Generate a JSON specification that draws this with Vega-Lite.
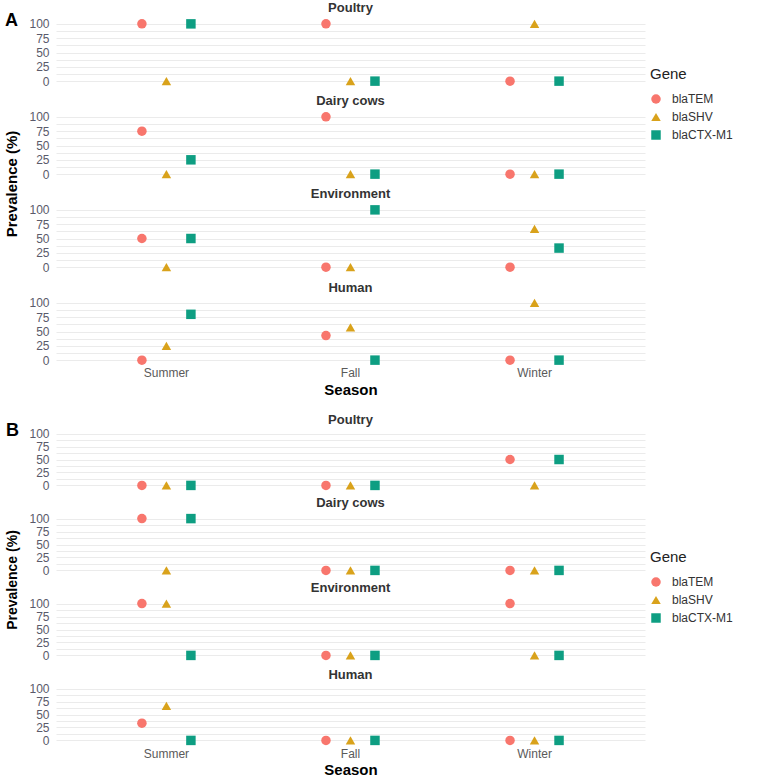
{
  "$schema": "https://vega.github.io/schema/vega-lite/v6.json",
  "background": "white",
  "padding": {"left": 4, "top": 2, "right": 5, "bottom": 2},
  "datasets": {
    "prev": [
      {"Panel":"A","Source":"Poultry","Season":"Summer","Gene":"blaTEM","Prevalence":100},
      {"Panel":"A","Source":"Poultry","Season":"Summer","Gene":"blaSHV","Prevalence":0},
      {"Panel":"A","Source":"Poultry","Season":"Summer","Gene":"blaCTX-M1","Prevalence":100},
      {"Panel":"A","Source":"Poultry","Season":"Fall","Gene":"blaTEM","Prevalence":100},
      {"Panel":"A","Source":"Poultry","Season":"Fall","Gene":"blaSHV","Prevalence":0},
      {"Panel":"A","Source":"Poultry","Season":"Fall","Gene":"blaCTX-M1","Prevalence":0},
      {"Panel":"A","Source":"Poultry","Season":"Winter","Gene":"blaTEM","Prevalence":0},
      {"Panel":"A","Source":"Poultry","Season":"Winter","Gene":"blaSHV","Prevalence":100},
      {"Panel":"A","Source":"Poultry","Season":"Winter","Gene":"blaCTX-M1","Prevalence":0},
      {"Panel":"A","Source":"Dairy cows","Season":"Summer","Gene":"blaTEM","Prevalence":75},
      {"Panel":"A","Source":"Dairy cows","Season":"Summer","Gene":"blaSHV","Prevalence":0},
      {"Panel":"A","Source":"Dairy cows","Season":"Summer","Gene":"blaCTX-M1","Prevalence":25},
      {"Panel":"A","Source":"Dairy cows","Season":"Fall","Gene":"blaTEM","Prevalence":100},
      {"Panel":"A","Source":"Dairy cows","Season":"Fall","Gene":"blaSHV","Prevalence":0},
      {"Panel":"A","Source":"Dairy cows","Season":"Fall","Gene":"blaCTX-M1","Prevalence":0},
      {"Panel":"A","Source":"Dairy cows","Season":"Winter","Gene":"blaTEM","Prevalence":0},
      {"Panel":"A","Source":"Dairy cows","Season":"Winter","Gene":"blaSHV","Prevalence":0},
      {"Panel":"A","Source":"Dairy cows","Season":"Winter","Gene":"blaCTX-M1","Prevalence":0},
      {"Panel":"A","Source":"Environment","Season":"Summer","Gene":"blaTEM","Prevalence":50},
      {"Panel":"A","Source":"Environment","Season":"Summer","Gene":"blaSHV","Prevalence":0},
      {"Panel":"A","Source":"Environment","Season":"Summer","Gene":"blaCTX-M1","Prevalence":50},
      {"Panel":"A","Source":"Environment","Season":"Fall","Gene":"blaTEM","Prevalence":0},
      {"Panel":"A","Source":"Environment","Season":"Fall","Gene":"blaSHV","Prevalence":0},
      {"Panel":"A","Source":"Environment","Season":"Fall","Gene":"blaCTX-M1","Prevalence":100},
      {"Panel":"A","Source":"Environment","Season":"Winter","Gene":"blaTEM","Prevalence":0},
      {"Panel":"A","Source":"Environment","Season":"Winter","Gene":"blaSHV","Prevalence":66.7},
      {"Panel":"A","Source":"Environment","Season":"Winter","Gene":"blaCTX-M1","Prevalence":33.3},
      {"Panel":"A","Source":"Human","Season":"Summer","Gene":"blaTEM","Prevalence":0},
      {"Panel":"A","Source":"Human","Season":"Summer","Gene":"blaSHV","Prevalence":25},
      {"Panel":"A","Source":"Human","Season":"Summer","Gene":"blaCTX-M1","Prevalence":80},
      {"Panel":"A","Source":"Human","Season":"Fall","Gene":"blaTEM","Prevalence":42.9},
      {"Panel":"A","Source":"Human","Season":"Fall","Gene":"blaSHV","Prevalence":57.1},
      {"Panel":"A","Source":"Human","Season":"Fall","Gene":"blaCTX-M1","Prevalence":0},
      {"Panel":"A","Source":"Human","Season":"Winter","Gene":"blaTEM","Prevalence":0},
      {"Panel":"A","Source":"Human","Season":"Winter","Gene":"blaSHV","Prevalence":100},
      {"Panel":"A","Source":"Human","Season":"Winter","Gene":"blaCTX-M1","Prevalence":0},
      {"Panel":"B","Source":"Poultry","Season":"Summer","Gene":"blaTEM","Prevalence":0},
      {"Panel":"B","Source":"Poultry","Season":"Summer","Gene":"blaSHV","Prevalence":0},
      {"Panel":"B","Source":"Poultry","Season":"Summer","Gene":"blaCTX-M1","Prevalence":0},
      {"Panel":"B","Source":"Poultry","Season":"Fall","Gene":"blaTEM","Prevalence":0},
      {"Panel":"B","Source":"Poultry","Season":"Fall","Gene":"blaSHV","Prevalence":0},
      {"Panel":"B","Source":"Poultry","Season":"Fall","Gene":"blaCTX-M1","Prevalence":0},
      {"Panel":"B","Source":"Poultry","Season":"Winter","Gene":"blaTEM","Prevalence":50},
      {"Panel":"B","Source":"Poultry","Season":"Winter","Gene":"blaSHV","Prevalence":0},
      {"Panel":"B","Source":"Poultry","Season":"Winter","Gene":"blaCTX-M1","Prevalence":50},
      {"Panel":"B","Source":"Dairy cows","Season":"Summer","Gene":"blaTEM","Prevalence":100},
      {"Panel":"B","Source":"Dairy cows","Season":"Summer","Gene":"blaSHV","Prevalence":0},
      {"Panel":"B","Source":"Dairy cows","Season":"Summer","Gene":"blaCTX-M1","Prevalence":100},
      {"Panel":"B","Source":"Dairy cows","Season":"Fall","Gene":"blaTEM","Prevalence":0},
      {"Panel":"B","Source":"Dairy cows","Season":"Fall","Gene":"blaSHV","Prevalence":0},
      {"Panel":"B","Source":"Dairy cows","Season":"Fall","Gene":"blaCTX-M1","Prevalence":0},
      {"Panel":"B","Source":"Dairy cows","Season":"Winter","Gene":"blaTEM","Prevalence":0},
      {"Panel":"B","Source":"Dairy cows","Season":"Winter","Gene":"blaSHV","Prevalence":0},
      {"Panel":"B","Source":"Dairy cows","Season":"Winter","Gene":"blaCTX-M1","Prevalence":0},
      {"Panel":"B","Source":"Environment","Season":"Summer","Gene":"blaTEM","Prevalence":100},
      {"Panel":"B","Source":"Environment","Season":"Summer","Gene":"blaSHV","Prevalence":100},
      {"Panel":"B","Source":"Environment","Season":"Summer","Gene":"blaCTX-M1","Prevalence":0},
      {"Panel":"B","Source":"Environment","Season":"Fall","Gene":"blaTEM","Prevalence":0},
      {"Panel":"B","Source":"Environment","Season":"Fall","Gene":"blaSHV","Prevalence":0},
      {"Panel":"B","Source":"Environment","Season":"Fall","Gene":"blaCTX-M1","Prevalence":0},
      {"Panel":"B","Source":"Environment","Season":"Winter","Gene":"blaTEM","Prevalence":100},
      {"Panel":"B","Source":"Environment","Season":"Winter","Gene":"blaSHV","Prevalence":0},
      {"Panel":"B","Source":"Environment","Season":"Winter","Gene":"blaCTX-M1","Prevalence":0},
      {"Panel":"B","Source":"Human","Season":"Summer","Gene":"blaTEM","Prevalence":33.3},
      {"Panel":"B","Source":"Human","Season":"Summer","Gene":"blaSHV","Prevalence":66.7},
      {"Panel":"B","Source":"Human","Season":"Summer","Gene":"blaCTX-M1","Prevalence":0},
      {"Panel":"B","Source":"Human","Season":"Fall","Gene":"blaTEM","Prevalence":0},
      {"Panel":"B","Source":"Human","Season":"Fall","Gene":"blaSHV","Prevalence":0},
      {"Panel":"B","Source":"Human","Season":"Fall","Gene":"blaCTX-M1","Prevalence":0},
      {"Panel":"B","Source":"Human","Season":"Winter","Gene":"blaTEM","Prevalence":0},
      {"Panel":"B","Source":"Human","Season":"Winter","Gene":"blaSHV","Prevalence":0},
      {"Panel":"B","Source":"Human","Season":"Winter","Gene":"blaCTX-M1","Prevalence":0}
    ]
  },
  "data": {"name": "prev"},
  "spacing": 17,
  "vconcat": [
    {
      "title": {"text": "A", "anchor": "start", "frame": "bounds", "offset": -28, "fontSize": 18, "fontWeight": "bold", "color": "black"},
      "transform": [{"filter": "datum.Panel == 'A'"}],
      "facet": {"row": {"field": "Source", "type": "nominal", "sort": ["Poultry", "Dairy cows", "Environment", "Human"],
        "header": {"title": "Prevalence (%)", "titleOrient": "left", "titleFontSize": 15, "titleFontWeight": "bold", "titleColor": "black", "titlePadding": -2,
          "labelOrient": "top", "labelAngle": 0, "labelAnchor": "middle", "labelFontSize": 13, "labelFontWeight": "bold", "labelColor": "#333333", "labelPadding": -9}}},
      "spacing": {"row": 9},
      "spec": {
        "width": 589, "height": 63,
        "mark": {"type": "point", "filled": true, "opacity": 1, "size": 90},
        "encoding": {
          "x": {"field": "Season", "type": "nominal", "sort": ["Summer", "Fall", "Winter"], "scale": {"paddingInner": 0, "paddingOuter": 0.1},
            "axis": {"bandPosition": 0.5, "labelAngle": 0, "title": "Season", "titleFontSize": 15, "titleFontWeight": "bold", "titleColor": "black", "titlePadding": 4, "labelPadding": 2, "labelColor": "#5a5a5a", "labelFontSize": 12}},
          "xOffset": {"field": "Gene", "type": "nominal", "sort": ["blaTEM", "blaSHV", "blaCTX-M1"], "scale": {"type": "point", "padding": 0, "range": [67.5, 116.5]}},
          "y": {"field": "Prevalence", "type": "quantitative", "scale": {"domain": [-5, 105], "nice": false, "zero": false},
            "axis": {"title": null, "values": [0, 12.5, 25, 37.5, 50, 62.5, 75, 87.5, 100], "labelExpr": "datum.value % 25 == 0 ? datum.label : ''", "labelPadding": 7, "labelFontSize": 12, "labelColor": "#5a5a6a"}},
          "color": {"field": "Gene", "type": "nominal", "scale": {"domain": ["blaTEM", "blaSHV", "blaCTX-M1"], "range": ["#F8766D", "#D9A21B", "#0E9E82"]},
            "legend": {"title": "Gene", "orient": "none", "legendX": 594, "legendY": 46}},
          "shape": {"field": "Gene", "type": "nominal", "scale": {"domain": ["blaTEM", "blaSHV", "blaCTX-M1"], "range": ["circle", "triangle-up", "square"]},
            "legend": {"title": "Gene", "orient": "none", "legendX": 594, "legendY": 46}}
        }
      }
    },
    {
      "title": {"text": "B", "anchor": "start", "frame": "bounds", "offset": -26, "fontSize": 18, "fontWeight": "bold", "color": "black"},
      "transform": [{"filter": "datum.Panel == 'B'"}],
      "facet": {"row": {"field": "Source", "type": "nominal", "sort": ["Poultry", "Dairy cows", "Environment", "Human"],
        "header": {"title": "Prevalence (%)", "titleOrient": "left", "titleFontSize": 14, "titleFontWeight": "bold", "titleColor": "black", "titlePadding": -2,
          "labelOrient": "top", "labelAngle": 0, "labelAnchor": "middle", "labelFontSize": 13, "labelFontWeight": "bold", "labelColor": "#333333", "labelPadding": -9}}},
      "spacing": {"row": 5},
      "spec": {
        "width": 589, "height": 57,
        "mark": {"type": "point", "filled": true, "opacity": 1, "size": 90},
        "encoding": {
          "x": {"field": "Season", "type": "nominal", "sort": ["Summer", "Fall", "Winter"], "scale": {"paddingInner": 0, "paddingOuter": 0.1},
            "axis": {"bandPosition": 0.5, "labelAngle": 0, "title": "Season", "titleFontSize": 15, "titleFontWeight": "bold", "titleColor": "black", "titlePadding": 3, "labelPadding": 2, "labelColor": "#5a5a5a", "labelFontSize": 12}},
          "xOffset": {"field": "Gene", "type": "nominal", "sort": ["blaTEM", "blaSHV", "blaCTX-M1"], "scale": {"type": "point", "padding": 0, "range": [67.5, 116.5]}},
          "y": {"field": "Prevalence", "type": "quantitative", "scale": {"domain": [-5, 105], "nice": false, "zero": false},
            "axis": {"title": null, "values": [0, 12.5, 25, 37.5, 50, 62.5, 75, 87.5, 100], "labelExpr": "datum.value % 25 == 0 ? datum.label : ''", "labelPadding": 7, "labelFontSize": 12, "labelColor": "#5a5a6a"}},
          "color": {"field": "Gene", "type": "nominal", "scale": {"domain": ["blaTEM", "blaSHV", "blaCTX-M1"], "range": ["#F8766D", "#D9A21B", "#0E9E82"]},
            "legend": {"title": "Gene", "orient": "none", "legendX": 594, "legendY": 119}},
          "shape": {"field": "Gene", "type": "nominal", "scale": {"domain": ["blaTEM", "blaSHV", "blaCTX-M1"], "range": ["circle", "triangle-up", "square"]},
            "legend": {"title": "Gene", "orient": "none", "legendX": 594, "legendY": 119}}
        }
      }
    }
  ],
  "resolve": {"legend": {"color": "independent", "shape": "independent"}},
  "config": {
    "font": "Liberation Sans",
    "view": {"stroke": null},
    "axis": {"domain": false, "ticks": false, "gridColor": "#EBEBEB", "gridWidth": 1},
    "legend": {"titleFontSize": 15, "titleFontWeight": "normal", "titleColor": "#222222", "labelFontSize": 12, "labelColor": "#333333", "symbolSize": 90, "rowPadding": 6, "labelOffset": 10, "titlePadding": 11, "symbolStrokeWidth": 0}
  }
}
